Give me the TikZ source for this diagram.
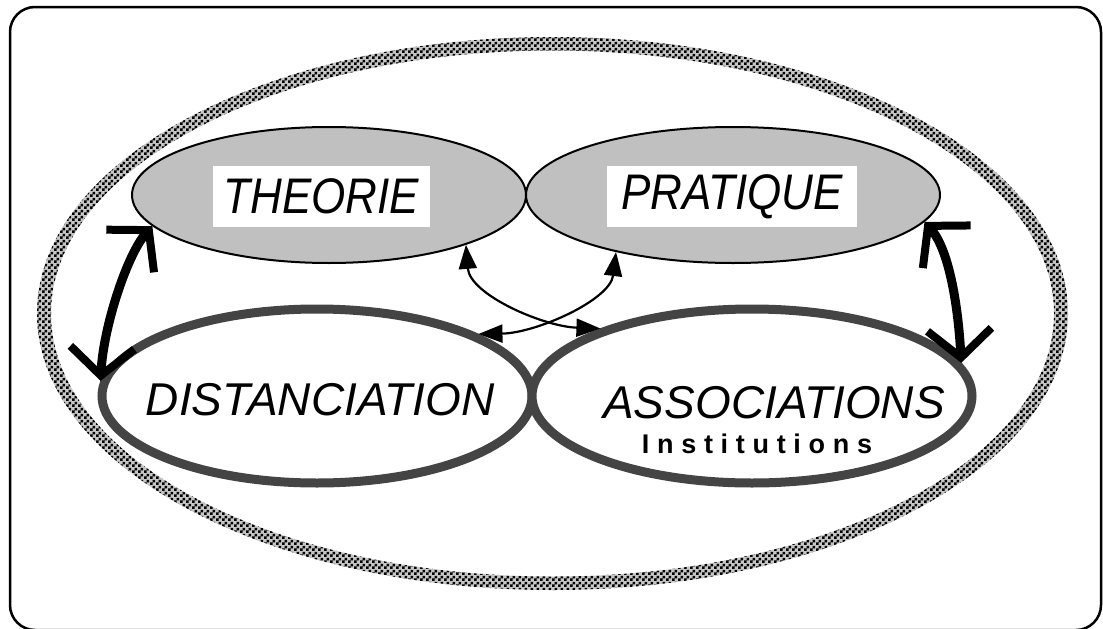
\documentclass[tikz,border=0pt]{standalone}
\usepackage{fontspec}
\newfontfamily\arialc[FakeStretch=0.88]{Liberation Sans}
\newfontfamily\arialn{Liberation Sans}
\usetikzlibrary{arrows.meta,patterns,shapes.geometric}
\definecolor{ellgray}{RGB}{192,192,192}
\definecolor{rimgray}{RGB}{68,68,68}
\pgfdeclarepatternformonly{finecheck}{\pgfpointorigin}{\pgfqpoint{6pt}{6pt}}{\pgfqpoint{6pt}{6pt}}{%
  \pgfpathrectangle{\pgfpointorigin}{\pgfqpoint{3pt}{3pt}}%
  \pgfpathrectangle{\pgfqpoint{3pt}{3pt}}{\pgfqpoint{3pt}{3pt}}%
  \pgfusepath{fill}}
\newcommand\lsp{\kern7.7pt}
\tikzset{
  grayell/.style={ellipse, draw=black, line width=2pt, fill=ellgray, inner sep=0pt},
  rimell/.style={ellipse, draw=rimgray, line width=9pt, fill=white, inner sep=0pt},
  lab/.style={font=\arialc\itshape\fontsize{50}{60}\selectfont, inner sep=0pt},
  biglab/.style={font=\arialn\itshape\fontsize{46}{56}\selectfont, inner sep=0pt},
  boxlab/.style={lab, fill=white, minimum height=61pt},
  instlab/.style={font=\arialn\bfseries\fontsize{27}{32}\selectfont, inner sep=0pt},
  bigarr/.style={line width=9pt, arrows={Straight Barb[length=28pt,width=64pt,line width=8pt]-Straight Barb[length=28pt,width=64pt,line width=8pt]}},
  smallarr/.style={line width=2.2pt, arrows={Triangle[length=24pt,width=18pt]-Triangle[length=24pt,width=18pt]}}
}
\begin{document}
\begin{tikzpicture}[x=1pt,y=-1pt]
\useasboundingbox (0,0) rectangle (1103,629);
% frame
\draw[line width=2.5pt, rounded corners=25pt] (10,7) rectangle (1101,630);
% outer stippled ring
\fill[gray!45, even odd rule] (552.5,313.5) ellipse [x radius=515.5, y radius=276.5]
      (552.5,313.5) ellipse [x radius=501.5, y radius=263];
\fill[pattern=finecheck, even odd rule] (552.5,313.5) ellipse [x radius=515.5, y radius=276.5]
      (552.5,313.5) ellipse [x radius=501.5, y radius=263];
% gray ellipses
\node[grayell, minimum width=394pt, minimum height=136pt] (theorie) at (329,195) {};
\node[grayell, minimum width=414pt, minimum height=136pt] (pratique) at (733,195) {};
\node[boxlab, minimum width=217pt] (ttheorie) at (321.5,196.5) {THEORIE};
\node[boxlab, minimum width=250pt] (tpratique) at (732,196.5) {PRATIQUE};
% rimmed ellipses
\node[rimell, minimum width=430pt, minimum height=174pt] (dist) at (317,396) {};
\node[rimell, minimum width=440pt, minimum height=174pt] (assoc) at (752,396) {};
\node[biglab, anchor=base] (tdist) at (320,415) {DISTANCIATION};
\node[biglab, anchor=base] (tassoc) at (774,418) {ASSOCIATIONS};
\node[instlab, anchor=base] (tinst) at (757,453) {I\lsp n\lsp s\lsp t\lsp i\lsp t\lsp u\lsp t\lsp i\lsp o\lsp n\lsp s};
% thick arrows
\draw[bigarr] (theorie.-170.9) .. controls +(-25,28) and +(3,-55) .. (dist.176.3);
\draw[bigarr] (pratique.-8.5) .. controls +(25,28) and +(-3,-55) .. (assoc.9.4);
% thin crossing arrows
\draw[smallarr] (theorie.-20.5) .. controls +(4,50) and +(-57,-2) .. (assoc.156.9);
\draw[smallarr] (pratique.-154.5) .. controls +(-6,48) and +(58,-1) .. (dist.21.5);
\end{tikzpicture}
\end{document}
